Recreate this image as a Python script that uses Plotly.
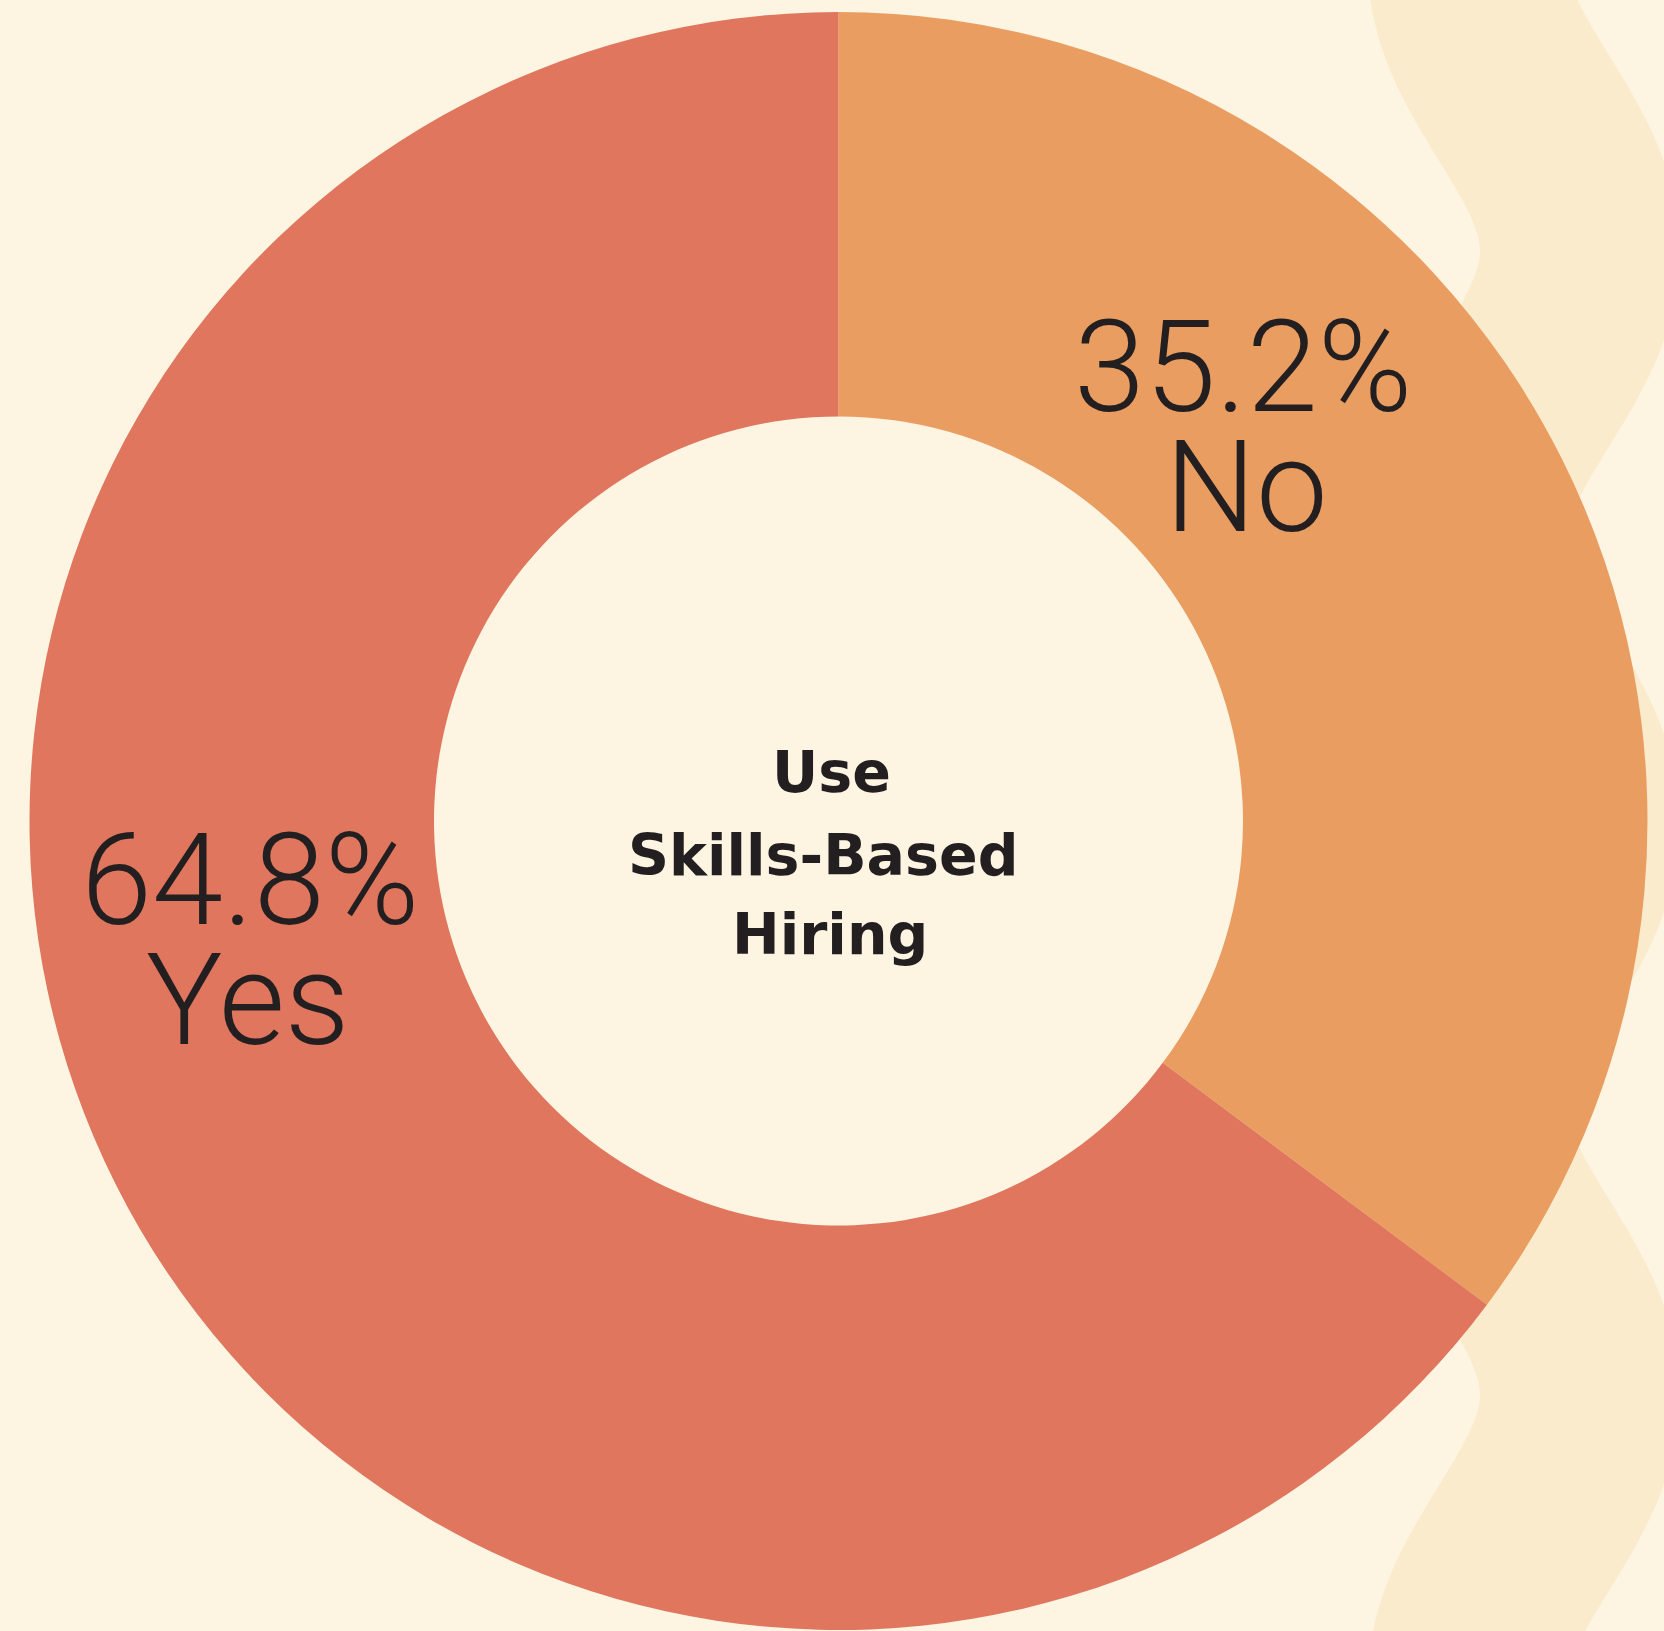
import math
import plotly.graph_objects as go

# ---- data ----
labels = ["No", "Yes"]
values = [35.2, 64.8]
colors = ["#E99D60", "#DF765D"]
pct_text = ["35.2%", "64.8%"]
center_title = ["Use", "Skills-Based", "Hiring"]

W, H = 1664, 1631
BG = "#FEF4E2"
WAVE = "#FBEBCD"
INK = "#231F20"

def px(x):
    return x / W

def py(y):
    return 1 - y / H

fig = go.Figure()
fig.add_trace(go.Pie(
    labels=labels,
    values=values,
    marker=dict(colors=colors, line=dict(width=0)),
    hole=0.5,
    sort=False,
    direction="clockwise",
    rotation=0,
    textinfo="none",
    hoverinfo="none",
    showlegend=False,
    domain=dict(x=[px(29.5), px(1647.5)], y=[py(1630), py(12)]),
))

# decorative wave band on the right (stroked sinusoidal centerline)
pts = []
y = -150
while y <= H + 150:
    xc = 1524 + 56 * math.cos(math.pi * (y - 251) / 286)
    pts.append(f"{px(xc):.5f},{py(y):.5f}")
    y += 6
path = "M " + " L ".join(pts)
shapes = [dict(type="path", path=path, xref="paper", yref="paper",
               line=dict(color=WAVE, width=200), fillcolor="rgba(0,0,0,0)",
               layer="below")]

ann = []
label_font = dict(family="Roboto", size=128, color=INK, weight=300)

def label(txt, cx, cy):
    return dict(text=txt, x=px(cx), y=py(cy), xref="paper", yref="paper",
                showarrow=False, xanchor="center", yanchor="middle",
                height=108, valign="middle", font=label_font)

ann.append(label(pct_text[0], 1243, 367))
ann.append(label(labels[0], 1246, 487))
ann.append(label(pct_text[1], 250, 880))
ann.append(label(labels[1], 248, 1000))

title_font = dict(family="DejaVu Sans", size=57, color=INK, weight=700)
for txt, cy, cx in zip(center_title, [772, 855, 934], [831, 823, 830]):
    ann.append(dict(text=txt, x=px(cx), y=py(cy), xref="paper", yref="paper",
                    showarrow=False, xanchor="center", yanchor="middle", font=title_font))

fig.update_layout(
    width=W, height=H,
    margin=dict(l=0, r=0, t=0, b=0),
    paper_bgcolor=BG, plot_bgcolor=BG,
    shapes=shapes,
    annotations=ann,
    showlegend=False,
)

fig.write_html(
    "out.html",
    config={"displayModeBar": False},
    post_script="document.body.style.margin='0';document.body.style.overflow='hidden';"
                "document.body.style.background='" + BG + "';",
)
